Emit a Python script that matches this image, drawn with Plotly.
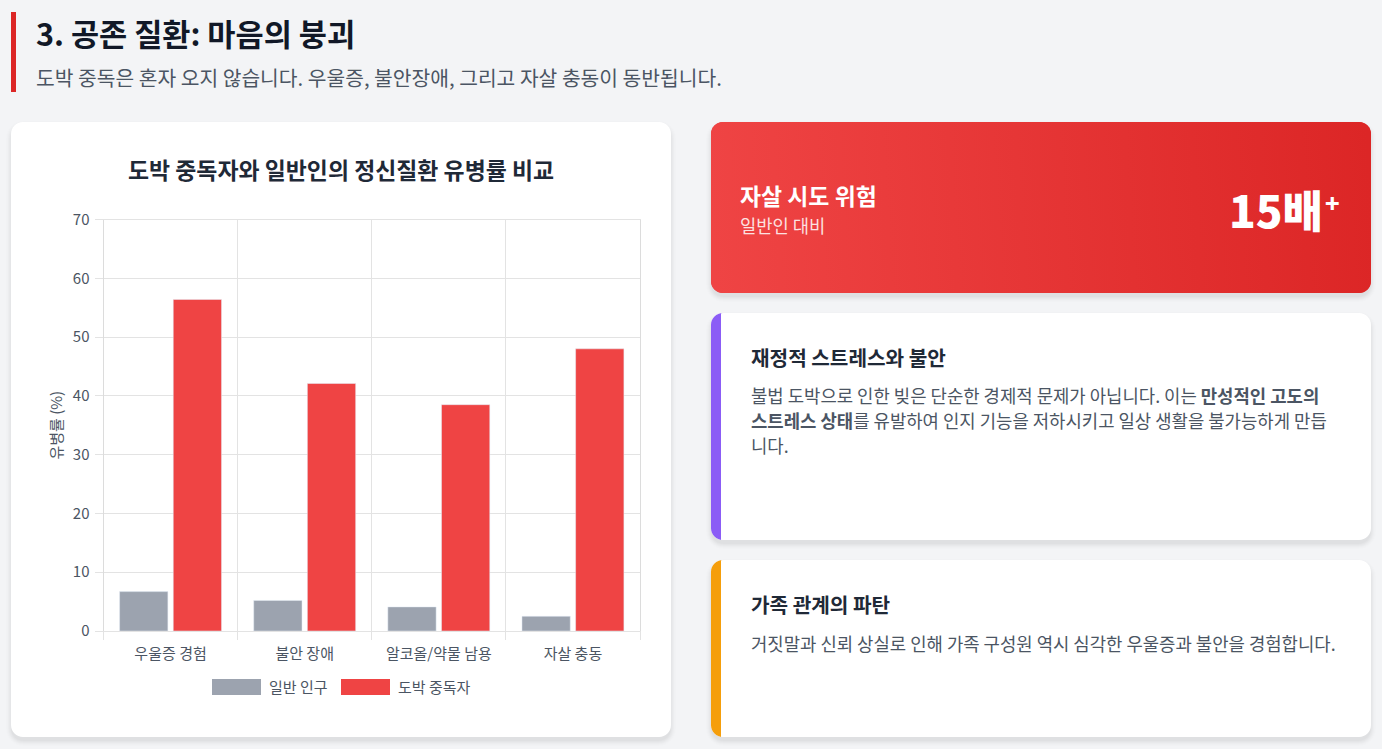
#!/usr/bin/env python3
"""Comorbidity slide: prevalence bars plus the side cards."""

from urllib.parse import quote

import plotly.graph_objects as go

WIDTH = 1382
HEIGHT = 749
FONT = "Noto Sans CJK KR"

CATEGORIES = ["우울증 경험", "불안 장애", "알코올/약물 남용", "자살 충동"]
GENERAL_POP = [6.7, 5.2, 4.1, 2.5]
GAMBLERS = [56.4, 42.1, 38.5, 48.0]
Y_TICKS = [0, 10, 20, 30, 40, 50, 60, 70]

GRID = "#e3e3e3"
DARK = "#111827"
HEADING = "#1f2937"
BODY = "#4b5563"
CARD_RADIUS = 12


def px(x):
    return x / WIDTH


def py(y):
    return 1 - y / HEIGHT


def pt(x, y):
    return f"{px(x):.5f},{py(y):.5f}"


def round_rect(x0, y0, x1, y1, r):
    k = r * 0.45
    return (
        f"M{pt(x0 + r, y0)} L{pt(x1 - r, y0)} C{pt(x1 - k, y0)} {pt(x1, y0 + k)} {pt(x1, y0 + r)} "
        f"L{pt(x1, y1 - r)} C{pt(x1, y1 - k)} {pt(x1 - k, y1)} {pt(x1 - r, y1)} "
        f"L{pt(x0 + r, y1)} C{pt(x0 + k, y1)} {pt(x0, y1 - k)} {pt(x0, y1 - r)} "
        f"L{pt(x0, y0 + r)} C{pt(x0, y0 + k)} {pt(x0 + k, y0)} {pt(x0 + r, y0)} Z"
    )


def accent_path(x0, y0, y1, r, bar):
    k = r * 0.45
    return (
        f"M{pt(x0 + r, y0)} C{pt(x0 + k, y0)} {pt(x0, y0 + k)} {pt(x0, y0 + r)} "
        f"L{pt(x0, y1 - r)} C{pt(x0, y1 - k)} {pt(x0 + k, y1)} {pt(x0 + r, y1)} "
        f"L{pt(x0 + bar, y1)} L{pt(x0 + bar, y0)} Z"
    )


def path_shape(path, color):
    return dict(
        type="path",
        path=path,
        fillcolor=color,
        line_width=0,
        xref="paper",
        yref="paper",
        layer="below",
    )


def card_shapes(x0, y0, x1, y1, color="#ffffff", r=CARD_RADIUS):
    # soft drop shadow, css box-shadow does not exist here
    shapes = []
    for grow, alpha in [(5, 0.006), (4, 0.008), (3, 0.011), (2, 0.014), (1, 0.017), (0, 0.02)]:
        shadow = round_rect(x0 - grow, y0 + 4 - grow, x1 + grow, y1 + 4 + grow, r + grow)
        shapes.append(path_shape(shadow, f"rgba(0,0,0,{alpha})"))
    shapes.append(path_shape(round_rect(x0, y0, x1, y1, r), color))
    return shapes


def plain_rect(x0, y0, x1, y1, color):
    return dict(
        type="rect",
        x0=px(x0),
        x1=px(x1),
        y0=py(y0),
        y1=py(y1),
        xref="paper",
        yref="paper",
        fillcolor=color,
        line_width=0,
        layer="below",
    )


def label(x, y, text, size, color, anchor="left", weight="normal"):
    # annotations carry about 2px of padding, take it back here
    nudge = -2 if anchor == "left" else (2 if anchor == "right" else 0)
    return dict(
        x=px(x + nudge),
        y=py(y - 0.7),
        xref="paper",
        yref="paper",
        text=text,
        showarrow=False,
        xanchor=anchor,
        yanchor="middle",
        font=dict(family=FONT, size=size, color=color, weight=weight),
    )


def gradient_card_uri(w, h, r):
    svg = (
        f'<svg xmlns="http://www.w3.org/2000/svg" width="{w}" height="{h}" viewBox="0 0 {w} {h}">'
        '<defs><linearGradient id="g" gradientUnits="userSpaceOnUse" '
        'x1="0" y1="105" x2="660" y2="66">'
        '<stop offset="0" stop-color="#ef4444"/><stop offset="1" stop-color="#dc2626"/>'
        "</linearGradient></defs>"
        f'<rect width="{w}" height="{h}" rx="{r}" fill="url(#g)"/></svg>'
    )
    return "data:image/svg+xml," + quote(svg)


fig = go.Figure()
fig.add_trace(go.Bar(x=CATEGORIES, y=GENERAL_POP, name="일반 인구", marker_color="#9ca3af"))
fig.add_trace(go.Bar(x=CATEGORIES, y=GAMBLERS, name="도박 중독자", marker_color="#ef4444"))

shapes = [plain_rect(11, 12, 16, 92, "#dc2626")]
shapes += card_shapes(11, 122, 671, 737)
shapes += card_shapes(711, 122, 1371, 293, "#e53535")
shapes += card_shapes(711, 313, 1371, 540)
shapes += card_shapes(711, 560, 1371, 737)
shapes.append(path_shape(accent_path(711, 313, 540, CARD_RADIUS, 10), "#8b5cf6"))
shapes.append(path_shape(accent_path(711, 560, 737, CARD_RADIUS, 10), "#f59e0b"))
shapes.append(plain_rect(212, 679, 261, 695, "#9ca3af"))
shapes.append(plain_rect(341, 679, 390, 695, "#ef4444"))

annotations = [
    label(36, 34, "<b>3. 공존 질환: 마음의 붕괴</b>", 30.6, DARK),
    label(36, 78, "도박 중독은 혼자 오지 않습니다. 우울증, 불안장애, 그리고 자살 충동이 동반됩니다.", 20.35, BODY),
    label(341, 170, "<b>도박 중독자와 일반인의 정신질환 유병률 비교</b>", 22.9, HEADING, "center"),
    label(269, 687, "일반 인구", 15, BODY),
    label(398, 687, "도박 중독자", 15, BODY),
    label(740, 196, "<b>자살 시도 위험</b>", 22.9, "#ffffff"),
    label(740, 226, "일반인 대비", 17.7, "rgba(255,255,255,0.85)"),
    label(1323, 210, "15배", 44, "#ffffff", "right", 900),
    label(1340, 203, "+", 24, "#ffffff", "right", 900),
    label(751, 358, "<b>재정적 스트레스와 불안</b>", 20.2, HEADING),
    label(751, 396, "불법 도박으로 인한 빚은 단순한 경제적 문제가 아닙니다. 이는 <b>만성적인 고도의</b>", 17.8, BODY),
    label(751, 421, "<b>스트레스 상태</b>를 유발하여 인지 기능을 저하시키고 일상 생활을 불가능하게 만듭", 17.8, BODY),
    label(751, 446, "니다.", 17.8, BODY),
    label(751, 605, "<b>가족 관계의 파탄</b>", 20.2, HEADING),
    label(751, 644, "거짓말과 신뢰 상실로 인해 가족 구성원 역시 심각한 우울증과 불안을 경험합니다.", 17.8, BODY),
]

fig.update_layout(
    width=WIDTH,
    height=HEIGHT,
    autosize=False,
    margin=dict(l=0, r=0, t=0, b=0),
    paper_bgcolor="#f3f4f6",
    plot_bgcolor="rgba(0,0,0,0)",
    font=dict(family=FONT, size=15, color=BODY),
    barmode="group",
    bargap=0.2,
    bargroupgap=0.1,
    showlegend=False,
    shapes=shapes,
    annotations=annotations,
    images=[
        dict(
            source=gradient_card_uri(660, 171, CARD_RADIUS),
            xref="paper",
            yref="paper",
            x=px(711),
            y=py(122),
            sizex=px(660),
            sizey=171 / HEIGHT,
            sizing="stretch",
            xanchor="left",
            yanchor="top",
            layer="above",
        )
    ],
)
fig.update_xaxes(
    automargin=False,
    domain=[px(103.5), px(640)],
    tickson="boundaries",
    ticks="outside",
    ticklen=8,
    tickcolor=GRID,
    showgrid=True,
    gridcolor=GRID,
    showline=True,
    mirror=True,
    linecolor=GRID,
    ticklabelstandoff=9,
    tickfont=dict(size=15, color=BODY),
)
fig.update_yaxes(
    automargin=False,
    domain=[py(631), py(219.5)],
    range=[0, 70],
    tickvals=Y_TICKS,
    ticks="outside",
    ticklen=8,
    tickcolor=GRID,
    gridcolor=GRID,
    showline=True,
    mirror=True,
    linecolor="#dcdcdc",
    zeroline=True,
    zerolinecolor="#cccccc",
    zerolinewidth=1,
    ticklabelstandoff=2,
    tickfont=dict(size=15, color=BODY),
    title=dict(text="유병률 (%)", font=dict(size=15, color=BODY), standoff=6),
)

fig.write_html(
    "out.html",
    config={"displayModeBar": False},
    post_script="document.body.style.margin='0';",
)
